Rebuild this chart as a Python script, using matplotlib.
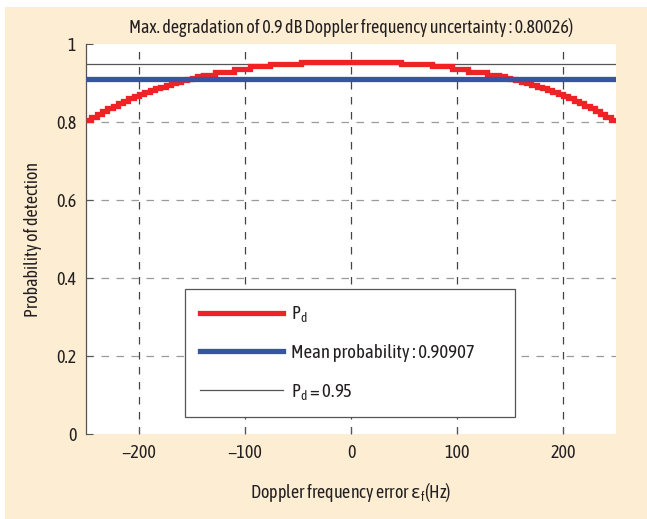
import matplotlib
matplotlib.use("Agg")
import matplotlib.pyplot as plt
from matplotlib.patches import Rectangle

# Doppler frequency error (Hz): step edges of the detection-probability curve
freq_edges = [-250, -245, -240, -235, -230, -225, -220, -215, -210, -205, -200,
              -195, -190, -185, -180, -175, -170, -165, -160, -155, -150, -145,
              -140, -128, -110, -95, -76, -47,
              47, 76, 95, 110, 128, 140,
              145, 150, 155, 160, 165, 170, 175, 180, 185, 190, 195, 200,
              205, 210, 215, 220, 225, 230, 235, 240, 245, 250]
# probability of detection on each step
pd_values = [0.804, 0.812, 0.820, 0.828, 0.835, 0.842, 0.848, 0.855, 0.861,
             0.867, 0.873, 0.878, 0.882, 0.887, 0.891, 0.895, 0.899, 0.903,
             0.907, 0.911, 0.914, 0.917,
             0.921, 0.928, 0.936, 0.944, 0.950,
             0.955,
             0.950, 0.944, 0.936, 0.928, 0.921,
             0.917, 0.914, 0.911, 0.907, 0.903, 0.899, 0.895, 0.891, 0.887,
             0.882, 0.878, 0.873, 0.867, 0.861, 0.855, 0.848, 0.842, 0.835,
             0.828, 0.820, 0.812, 0.804]
mean_pd = 0.90907
pd_target = 0.95
max_degradation = 0.80026

x_ticks = [-200, -100, 0, 100, 200]
x_ticklabels = ["\u2212200", "\u2212100", "0", "100", "200"]
y_ticks = [0, 0.2, 0.4, 0.6, 0.8, 1.0]
y_ticklabels = ["0", "0.2", "0.4", "0.6", "0.8", "1"]

FONT = ["Asap Condensed", "DejaVu Sans"]
INK = "#231f20"
PANEL = "#fdeed3"
RED = "#ee2326"
BLUE = "#3853a4"

plt.rcParams.update({
    "font.family": FONT,
    "font.size": 13,
    "mathtext.fontset": "custom",
    "mathtext.rm": "Asap Condensed",
    "mathtext.it": "Asap Condensed:italic",
    "mathtext.sf": "DejaVu Sans",
    "text.color": INK,
    "axes.labelcolor": INK,
    "xtick.color": "#555555",
    "ytick.color": "#555555",
    "xtick.labelcolor": INK,
    "ytick.labelcolor": INK,
})

fig = plt.figure(figsize=(6.47, 5.19), dpi=100, facecolor="white")
fig.patches.append(Rectangle((5 / 647, 0), 1, 512 / 519, transform=fig.transFigure,
                             facecolor=PANEL, edgecolor="none", zorder=-10))

ax = fig.add_axes([86 / 647, 85 / 519, 530 / 647, 390 / 519])
ax.set_facecolor("white")

# dashed MATLAB-style grid
for xv in x_ticks:
    ax.axvline(xv, color="#444444", lw=0.9, ls=(0, (6, 6)), zorder=1)
for yv in y_ticks[1:-1]:
    ax.axhline(yv, color="#9a9a9a", lw=0.9, ls=(0, (6, 6)), zorder=1)

ax.stairs(pd_values, freq_edges, baseline=None, color=RED, lw=3.8,
          label=r"P$_{\mathrm{d}}$", zorder=3)
ax.axhline(mean_pd, color=BLUE, lw=3.8,
           label=f"Mean probability : {mean_pd:.5f}", zorder=3)
ax.axhline(pd_target, color="#555555", lw=0.9,
           label=r"P$_{\mathrm{d}}$ = 0.95", zorder=2)

ax.set_xlim(-250, 250)
ax.set_ylim(0, 1)
ax.set_xticks(x_ticks)
ax.set_xticklabels(x_ticklabels)
ax.set_yticks(y_ticks)
ax.set_yticklabels(y_ticklabels)
ax.tick_params(direction="in", length=5, width=0.8, pad=7)
for side in ["top", "right", "bottom"]:
    ax.spines[side].set_visible(False)
ax.spines["left"].set_color("#555555")
ax.spines["left"].set_linewidth(0.9)

ax.set_title(f"Max. degradation of 0.9 dB Doppler frequency uncertainty : {max_degradation:.5f})",
             fontsize=13, pad=8)
ax.set_xlabel(r"Doppler frequency error $\mathsf{\varepsilon}_{\mathrm{f}}$(Hz)", labelpad=14)
ax.set_ylabel("Probability of detection", labelpad=10)

leg = ax.legend(loc="lower left", bbox_to_anchor=(0.187, 0.044, 0.622, 0.325),
                mode="expand", borderaxespad=0, fancybox=False, framealpha=1,
                edgecolor="#555555", handlelength=4.4, handletextpad=0.45,
                labelspacing=1.06, borderpad=0.8, fontsize=13.5)
leg.get_frame().set_linewidth(0.9)

fig.savefig("out.png", dpi=100, facecolor="white")
